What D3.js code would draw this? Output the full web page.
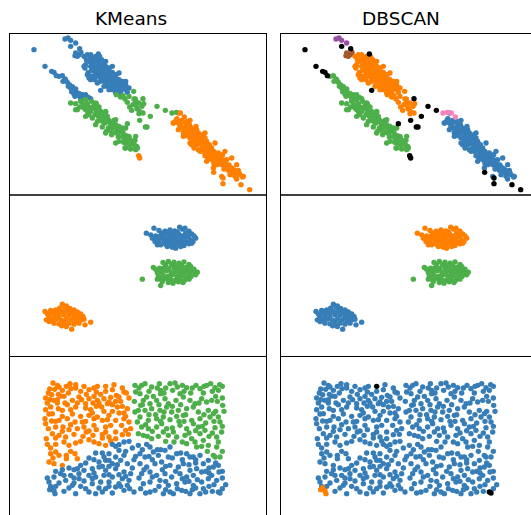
<!DOCTYPE html>
<html><head><meta charset="utf-8">
<script src="https://cdn.jsdelivr.net/npm/d3@7"></script>
<style>body{margin:0;background:#fff}svg{display:block}</style>
</head><body><svg id="c" width="531" height="515"></svg>
<script>
// cluster colour palette (label index) and noise colour
const palette = ["#377eb8","#ff7f00","#4daf4a","#f781bf","#a65628","#984ea3"];
const noiseColor = "#000000";
const methods = ["KMeans","DBSCAN"];

// ---------- Dataset 1: anisotropic blobs (x, y in plot units 0..771, 0..484) ----------
const anisoUpperTop = [[168,468],[177,471],[185,464],[200,456]];                 // K0 / D5
const anisoUpperBrown = [[200,426],[210,421],[205,416],[216,428],[198,418]];      // K0 / D4
const anisoNoiseK0 = [[185,446],[212,439],[268,423],[75,436],[108,386],[128,371],[135,368],[142,358],[275,314]];
const anisoNoiseK2 = [[355,214],[392,224],[402,289],[444,266],[469,254],[424,236],[409,204],[414,204]];
const anisoNoiseK1 = [[389,118],[392,111],[614,68],[642,51],[642,34],[696,31],[722,16]];
const anisoPinkK2 = [[489,246],[502,248]];
const anisoPinkK1 = [[514,246],[526,234]];
const anisoUpperMain = [[225,416],[235,421],[245,414],[240,401],[250,406],[260,416],[265,408],[255,394],[245,386],[230,391],[228,381],[238,368],[248,374],[262,386],[270,396],[280,401],[275,388],[268,376],[258,364],[250,356],[242,358],[265,358],[280,371],[290,386],[295,374],[285,361],[275,351],[290,351],[300,361],[305,346],[295,336],[310,336],[318,351],[325,338],[315,326],[330,326],[340,331],[345,318],[335,314],[352,316],[322,316],[305,324],[285,341],[270,366],[300,381],[310,368],[320,361],[285,394],[260,371],[232,406],[272,416],[278,406],[305,356],[312,344],[330,346],[345,326],[355,308],[240,351],
  [248,396],[258,401],[268,386],[276,378],[283,371],[292,364],[298,348],[308,342],[316,338],[322,331],[336,324],[262,378],[254,381],[284,381],[296,356],[270,356],[280,356],[318,322],[350,330],[338,338],
  [245,421],[270,411],[290,401],[310,386],[330,366],[350,341],[360,321],[225,386],[235,361],[245,346],[265,336],[285,326],[300,316],[320,306],[255,411],[282,396],[300,376],[320,356],[340,341],[258,346],[275,341],[295,326],[310,316],[335,306]];
const anisoUpperTail = [[322,301],[335,294],[348,288],[355,278],[362,264],[368,254],[372,271],[380,278],[385,258],[390,244],[360,296],[375,288],[342,298],[374,311],[379,288],[389,276],[404,274],[399,266],[384,261],[392,251],[402,246],[379,271]];
const anisoLowerBlue = [[150,356],[160,358],[168,348],[175,338],[162,341],[178,326],[185,321],[192,316],[200,311],[195,303],[205,301],[212,296],[220,301],[230,301],[238,293],[245,289],[170,345],[182,330],[190,325],[200,318],[210,305],[222,295],[188,310],[198,296],[215,288],[228,290]];
const anisoLowerGreen = [[185,276],[200,274],[215,281],[228,286],[222,271],[235,274],[248,281],[240,264],[255,268],[262,274],[230,256],[245,251],[260,258],[270,264],[275,251],[258,241],[268,236],[280,244],[290,248],[285,231],[272,224],[295,236],[300,224],[288,216],[305,211],[315,224],[310,201],[298,201],[320,211],[325,196],[330,206],[318,188],[335,191],[340,176],[328,174],[345,168],[350,156],[355,164],[362,151],[372,158],[380,146],[385,141],[348,141],[365,138],[240,241],[250,231],[265,221],[280,204],[292,191],[308,181],[225,261],[212,264],[205,256],[340,201],[360,176],[378,164],[330,161],[376,151],[380,136],[383,146],
  [232,268],[252,262],[262,250],[278,238],[292,228],[302,218],[312,212],[322,204],[332,196],[342,188],[352,178],[362,168],[370,162],[344,158],[326,184],[304,194],[282,220],[266,244],[246,262],[236,250],
  [230,286],[260,276],[290,251],[320,226],[350,201],[380,176],[200,256],[230,236],[260,211],[290,186],[320,156],[350,141]];
const anisoRight = [[501,224],[508,216],[518,224],[528,218],[513,206],[523,201],[533,206],[541,211],[548,201],[531,191],[543,186],[553,191],[561,196],[568,186],[558,176],[543,171],[533,178],[573,176],[581,181],[588,171],[578,166],[565,164],[553,161],[548,151],[563,151],[575,156],[593,161],[601,151],[588,146],[578,141],[568,136],[583,131],[595,136],[608,141],[613,131],[598,124],[588,118],[605,116],[618,121],[628,126],[633,114],[621,108],[611,104],[598,108],[628,101],[641,106],[648,96],[638,91],[623,91],[653,86],[645,78],[658,74],[668,81],[673,68],[663,61],[678,56],[683,48],[693,61],[688,74],[701,54],[653,106],[615,94],[593,101],[641,121],[561,206],[543,224],[523,186],[555,141],[493,216],[504,229],
  [515,212],[525,196],[538,196],[536,182],[550,186],[552,172],[560,178],[562,164],[570,168],[572,155],[582,158],[585,145],[592,150],[590,136],[603,140],[605,127],[615,130],[617,112],[625,118],[635,100],[632,120],[645,102],[650,92],[660,90],[662,78],[675,76],[680,64],[690,66],
  [508,246],[533,221],[563,196],[588,186],[618,156],[648,131],[668,111],[683,91],[703,56],[493,216],[508,196],[523,176],[543,156],[573,131],[593,116],[613,81],[638,56]];

// ---------- Dataset 2: three isotropic blobs ----------
const blobTop = [[412,370],[435,385],[512,388],[528,385],[520,382],[450,378],[468,376],[483,380],[497,377],[540,376],[505,374],[458,370],[475,372],[490,368],[530,370],[548,368],[555,362],[425,365],[440,362],[452,360],[465,364],[480,362],[495,365],[510,366],[522,362],[538,360],[560,355],[430,355],[445,352],[458,355],[472,352],[486,355],[500,356],[514,352],[528,354],[544,350],[552,345],[438,345],[450,342],[465,346],[478,344],[492,348],[505,343],[520,345],[535,342],[548,340],[455,335],[470,337],[485,336],[498,334],[512,338],[525,333],[540,338],[445,335],[500,325],[490,328],[515,330],[475,330]];
const blobMiddle = [[400,232],[455,213],[565,253],[433,267],[462,282],[478,285],[495,283],[510,280],[525,284],[540,276],[470,275],[488,276],[502,272],[518,273],[532,268],[545,270],[555,262],[440,262],[452,265],[465,266],[480,264],[496,265],[510,262],[524,260],[538,258],[550,256],[445,252],[458,255],[472,257],[486,252],[500,255],[514,250],[528,252],[542,248],[556,250],[448,242],[462,244],[476,240],[490,245],[504,240],[518,242],[532,238],[546,240],[445,232],[458,230],[470,234],[484,232],[498,228],[512,232],[526,228],[540,232],[478,222],[492,220],[508,224],[522,222],[460,225],[452,238],[560,245]];
const blobLow = [[108,135],[160,157],[188,82],[228,95],[245,103],[125,138],[140,140],[152,145],[168,148],[182,144],[195,140],[172,152],[115,128],[130,130],[145,133],[160,135],[175,136],[190,132],[205,134],[215,128],[120,118],[135,120],[150,122],[165,125],[180,124],[195,120],[210,118],[222,120],[112,110],[128,108],[142,112],[157,110],[172,113],[187,110],[202,108],[217,110],[135,100],[150,98],[165,102],[180,100],[195,97],[210,100],[158,92],[172,90],[120,105],[118,125],[225,112],[200,125],[148,128]];

// ---------- Dataset 3: uniform noise ----------
const uniformOrange = [[132,405],[183,403],[172,395],[122,387],[137,386],[150,393],[160,383],[186,388],[265,395],[215,380],[118,375],[148,371],[155,366],[165,365],[210,363],[232,371],[275,371],[255,365],[345,378],[352,375],[322,368],[330,363],[123,355],[135,353],[190,353],[218,355],[240,358],[265,353],[285,358],[300,348],[110,325],[125,333],[148,328],[160,323],[185,325],[200,333],[230,343],[245,325],[262,335],[278,333],[295,343],[325,333],[340,335],[355,328],[108,298],[130,313],[128,291],[150,293],[175,298],[198,288],[215,305],[240,308],[255,298],[265,303],[280,293],[300,308],[320,293],[345,298],[360,288],[110,283],[118,268],[140,273],[162,273],[180,265],[205,268],[225,273],[240,261],[262,265],[290,273],[305,278],[338,278],[350,263],[365,268],[130,253],[150,248],[170,243],[195,251],[222,245],[252,248],[280,251],[300,243],[320,258],[358,251],[115,221],[140,221],[180,218],[200,225],[240,235],[255,228],[270,223],[290,218],[305,231],[125,193],[140,198],[150,188],[172,188],[198,193],[120,168],[135,163],[160,158],[205,178],
  [115,345],[145,345],[175,340],[205,345],[230,330],[270,345],[310,340],[335,350],[360,360],[110,360],[255,390],[225,395],[200,400],[310,385],[340,390],[285,320],[310,320],[230,290],[185,280],[160,305],[330,315],[350,305],[255,278],[140,240],[215,230],[320,238],[280,240],
  [145,398],[200,390],[240,385],[290,380],[315,400],[128,370],[178,375],[262,378],[305,362],[145,355],[168,345],[252,345],[320,350],[120,312],[190,312],[250,315],[295,295],[345,315],[140,290],[220,288],[160,260],[232,258],[290,258],[340,250],[112,238],[165,228],[125,210],[185,200],[132,180],[172,178]];
const uniformNoiseK1 = [[290,395]];
const uniformGreen = [[398,398],[408,403],[428,393],[451,403],[455,383],[483,403],[498,405],[491,383],[513,373],[533,391],[561,398],[573,388],[583,375],[605,403],[618,391],[628,383],[393,373],[413,363],[433,365],[403,353],[423,343],[443,353],[468,358],[478,343],[501,353],[523,363],[543,353],[558,343],[578,358],[593,348],[608,353],[641,338],[388,323],[408,323],[428,328],[453,323],[473,333],[488,318],[508,323],[533,328],[553,333],[568,318],[598,323],[613,313],[628,303],[393,303],[418,293],[443,298],[463,303],[483,295],[503,305],[523,308],[548,293],[573,298],[603,303],[633,288],[398,273],[418,268],[443,273],[458,283],[473,268],[493,258],[513,278],[533,268],[553,283],[568,273],[588,263],[618,271],[638,258],[403,248],[428,238],[448,245],[463,258],[478,248],[503,243],[528,248],[548,238],[573,253],[583,233],[623,243],[533,223],[558,228],[578,215],[598,218],[623,213],[628,228],[613,188],[633,183],[618,183],
  [378,398],[380,378],[376,350],[378,318],[385,288],[388,253],[520,398],[545,375],[593,398],[620,365],[640,395],[640,360],[455,373],[470,390],[440,310],[510,290],[590,285],[640,275],[600,245],[560,262],[520,228],[495,228],[470,230],[430,260],
  [390,390],[420,380],[445,390],[465,375],[505,393],[525,380],[550,390],[585,395],[610,380],[632,400],[400,340],[450,340],[490,335],[515,340],[570,345],[625,350],[645,320],[395,338],[420,310],[465,318],[530,310],[585,310],[620,320],[410,280],[455,290],[525,290],[580,275],[615,290],[415,245],[490,270],[540,255],[610,255],[563,213],[595,200],[640,200]];
const uniformBlue = [[345,228],[310,221],[330,203],[300,193],[285,183],[320,183],[345,188],[270,168],[290,173],[310,163],[335,173],[355,163],[215,158],[205,148],[225,143],[250,148],[270,153],[290,143],[320,148],[345,138],[365,133],[155,133],[185,128],[210,133],[240,128],[260,123],[285,128],[310,123],[340,118],[360,113],[120,108],[135,123],[170,113],[195,105],[225,111],[250,103],[275,108],[300,108],[330,103],[355,98],[200,73],[230,88],[260,73],[290,88],[320,93],[345,83],[375,78],
  [280,195],[240,180],[370,210],[375,175],[260,195],[230,165],[180,150],[195,120],[150,105],[140,95],[180,90],[215,95],[270,90],[310,75],[160,145],[250,118],[370,150],[300,155],[330,130],[350,200],[320,215],
  [388,218],[413,221],[423,213],[393,193],[408,183],[433,198],[448,188],[468,203],[483,213],[478,183],[503,193],[533,193],[543,183],[553,183],[573,188],[598,173],[613,153],[628,158],[393,163],[413,153],[438,163],[458,168],[483,158],[508,153],[523,163],[543,143],[563,148],[583,163],[423,138],[398,133],[443,128],[468,133],[488,123],[513,133],[533,123],[553,128],[578,138],[608,128],[623,113],[403,103],[423,108],[453,113],[478,98],[503,103],[528,108],[553,98],[578,108],[598,118],[423,78],[438,83],[463,73],[483,78],[493,73],[518,83],[543,73],[573,73],[583,88],
  [445,205],[520,175],[560,165],[600,150],[640,140],[650,100],[600,95],[540,110],[460,145],[430,175],[500,140],[590,140],[640,120],[470,85],[550,85],[610,80],
  [125,95],[165,80],[190,98],[240,78],[280,78],[300,95],[335,95],[362,88],[395,88],[410,75],[450,95],[505,88],[530,80],[560,90],[590,78],[640,88],[115,120],[165,128],[210,118],[255,135],[300,130],[350,125],[390,120],[430,123],[470,110],[520,118],[565,115],[615,100],[140,140],[195,145],[280,155],[325,160],[405,145],[470,155],[540,160],[600,135],[630,138],[255,175],[300,173],[380,185],[420,185],[490,180],[560,175],[620,165],[330,220],[360,230],[400,205],[455,205],[515,195]];
const uniformSmallK0 = [[122,85],[128,91],[135,81],[138,73]];
const uniformNoiseK0 = [[628,78],[633,75]];

// groups: [points, KMeans label, DBSCAN label]  (-1 = noise)
const rowsData = [
  [[anisoUpperMain,0,1],[anisoUpperTail,2,1],[anisoLowerBlue,0,2],[anisoLowerGreen,2,2],[anisoRight,1,0],
   [anisoUpperTop,0,5],[anisoUpperBrown,0,4],[anisoPinkK2,2,3],[anisoPinkK1,1,3],
   [anisoNoiseK0,0,-1],[anisoNoiseK2,2,-1],[anisoNoiseK1,1,-1]],
  [[blobTop,0,1],[blobMiddle,2,2],[blobLow,1,0]],
  [[uniformOrange,1,0],[uniformGreen,2,0],[uniformBlue,0,0],[uniformNoiseK1,1,-1],[uniformSmallK0,0,1],[uniformNoiseK0,0,-1]]
];

const svg = d3.select("#c");
svg.append("rect").attr("width",531).attr("height",515).attr("fill","#fff");
const colLeft = [9, 280], rowTop = [33.5, 195, 356.5], W = 257, H = 161.5;
const titleX = [131, 401];

methods.forEach((m, ci) => {
  svg.append("text").attr("x", titleX[ci]).attr("y", 24.5)
    .attr("text-anchor","middle").attr("font-family","DejaVu Sans, sans-serif")
    .attr("font-size", 18.5).attr("fill","#000").text(m);
});

rowsData.forEach((groups, ri) => {
  methods.forEach((m, ci) => {
    const x = d3.scaleLinear().domain([0, 771]).range([colLeft[ci], colLeft[ci] + W]);
    const y = d3.scaleLinear().domain([0, 484.5]).range([rowTop[ri] + H, rowTop[ri]]);
    const g = svg.append("g");
    groups.forEach(([pts, kl, dl]) => {
      const lab = ci === 0 ? kl : dl;
      const col = lab < 0 ? noiseColor : palette[lab];
      g.selectAll(null).data(pts).enter().append("circle")
        .attr("cx", d => x(d[0])).attr("cy", d => y(d[1]))
        .attr("r", 2.7).attr("fill", col);
    });
    svg.append("rect").attr("x", colLeft[ci] + 0.5).attr("y", rowTop[ri])
      .attr("width", W).attr("height", H)
      .attr("fill","none").attr("stroke","#000").attr("stroke-width",1);
  });
});
</script></body></html>
